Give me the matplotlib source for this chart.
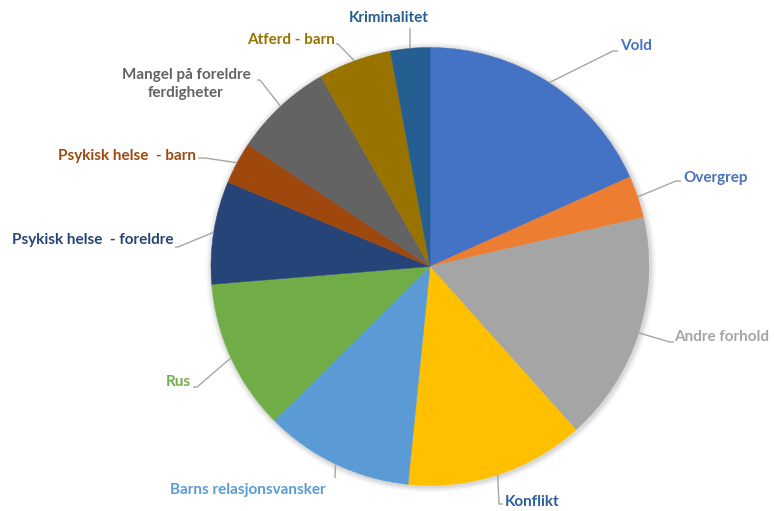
import numpy as np
import matplotlib
matplotlib.use('Agg')
import matplotlib.pyplot as plt

# ======================
# data (share of cases, %), clockwise from 12 o'clock
# ======================
labels = ['Vold', 'Overgrep', 'Andre forhold', 'Konflikt', 'Barns relasjonsvansker',
          'Rus', 'Psykisk helse  - foreldre', 'Psykisk helse  - barn',
          'Mangel på foreldre\nferdigheter', 'Atferd - barn', 'Kriminalitet']
values = [18.3, 3.1, 17.0, 13.2, 11.0, 11.1, 7.6, 3.1, 7.3, 5.4, 2.9]
colors = ['#4472C4', '#ED7D31', '#A5A5A5', '#FFC000', '#5B9BD5', '#70AD47',
          '#264478', '#9E480E', '#636363', '#997300', '#255E91']
text_colors = ['#4472C4', '#4A72BC', '#A5A5A5', '#2F5E9E', '#5B9BD5', '#70AD47',
               '#264478', '#9E480E', '#636363', '#997300', '#255E91']

# ======================
# layout (pixels): text anchor, ha, leader knee, leader end
# ======================
W, H = 774, 511
cx, cy, r = 430, 266.5, 219
label_layout = [
    (620, 46, 'left', (613, 51), (618, 51)),
    (683, 178, 'left', (676, 181), (681, 181)),
    (674, 337, 'left', (670, 342), (674, 342)),
    (505, 502, 'left', (499, 504), (503, 504)),
    (248, 490, 'center', (335, 478), (335, 478)),
    (191, 382, 'right', (197, 387), (193, 387)),
    (174, 240, 'right', (178, 247), (175, 247)),
    (196, 156, 'right', (205, 158), (198, 158)),
    (186, 84, 'center', (260, 80), (257, 80)),
    (335, 40, 'right', (338, 44), (336, 44)),
    (389, 18, 'center', (410, 30), (410, 28)),
]

fig = plt.figure(figsize=(W / 100, H / 100), dpi=100)
ax = fig.add_axes([0, 0, 1, 1])

# soft shadow around the pie
for k, a in zip([6, 4, 2], [0.03, 0.05, 0.07]):
    ax.add_patch(plt.Circle((cx + 1, cy + 1), r + k, color='black', alpha=a, lw=0))

# y axis inverted -> startangle -90 + counterclock gives clockwise from top
wedges, _ = ax.pie(values, colors=colors, startangle=-90, counterclock=True,
                   center=(cx, cy), radius=r, wedgeprops=dict(linewidth=0.3))
for w, c in zip(wedges, colors):
    w.set_edgecolor(c)
ax.set_xlim(0, W)
ax.set_ylim(H, 0)
ax.set_aspect('equal')
ax.axis('off')

for w, lab, col, (tx, ty, ha, knee, end) in zip(wedges, labels, text_colors, label_layout):
    ang = np.deg2rad((w.theta1 + w.theta2) / 2)
    ex = cx + r * np.cos(ang)
    ey = cy + r * np.sin(ang)
    ax.plot([ex, knee[0], end[0]], [ey, knee[1], end[1]], color='#A6A6A6', lw=1.0,
            solid_capstyle='butt')
    ax.text(tx, ty, lab, ha=ha, va='center', color=col, fontsize=11,
            fontweight='bold', family='Lato', linespacing=1.4,
            multialignment='center')

plt.savefig('out.png', dpi=100)
